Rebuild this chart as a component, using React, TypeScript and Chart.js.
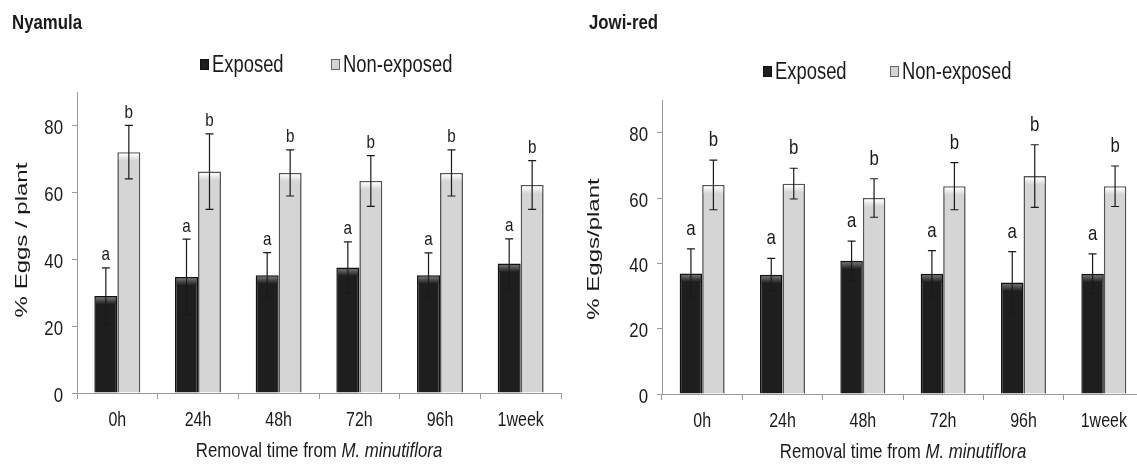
import React, { useEffect, useRef } from "react";
import { Chart, registerables } from "chart.js";

Chart.register(...registerables);

// ---------- data ----------
const categories = ["0h", "24h", "48h", "72h", "96h", "1week"];
const seriesNames = ["Exposed", "Non-exposed"];
const yTickStep = 20;
const yMax = 90;

const nyamulaExposed = [29, 34.7, 35.2, 37.5, 35.2, 38.7];
const nyamulaExposedErr = [8.4, 11.3, 6.8, 7.7, 6.7, 7.4];
const nyamulaNonExposed = [72, 66.2, 65.8, 63.4, 65.8, 62.2];
const nyamulaNonExposedErr = [8, 11.3, 6.9, 7.6, 6.9, 7.3];

const jowiExposed = [36.9, 36.5, 40.8, 36.8, 34.1, 36.8];
const jowiExposedErr = [7.5, 5, 6, 7.1, 9.5, 6.1];
const jowiNonExposed = [64, 64.4, 60, 63.6, 66.7, 63.6];
const jowiNonExposedErr = [7.6, 4.7, 5.9, 7.2, 9.6, 6.2];

const exposedLetters = ["a", "a", "a", "a", "a", "a"];
const nonExposedLetters = ["b", "b", "b", "b", "b", "b"];

const xTitleNormal = "Removal time from ";
const xTitleItalic = "M. minutiflora";

// ---------- style ----------
const FONT = '"Liberation Sans", Arial, sans-serif';
const SX = 0.8; // horizontal squeeze to mimic a narrow face
const TEXT = "#1a1a1a";
const EXPOSED_FILL = "#1e1e1e";
const EXPOSED_TOP = "#707070";
const NON_FILL = "#d5d5d5";
const NON_TOP = "#ffffff";

function narrowText(
  ctx: CanvasRenderingContext2D,
  text: string,
  x: number,
  y: number,
  font: string,
  align: CanvasTextAlign = "left"
) {
  ctx.save();
  ctx.font = font;
  ctx.textAlign = align;
  ctx.textBaseline = "alphabetic";
  ctx.fillStyle = TEXT;
  ctx.translate(x, y);
  ctx.scale(SX, 1);
  ctx.fillText(text, 0, 0);
  ctx.restore();
}

type PanelCfg = {
  title: string;
  yTitle: string;
  exposed: number[];
  exposedErr: number[];
  non: number[];
  nonErr: number[];
  width: number;
  height: number;
  area: { left: number; right: number; top: number; bottom: number };
  catPct: number;
  titleX: number;
  titleY: number;
  legendY: number;
  legendX1: number;
  legendX2: number;
  yTitleX: number;
  yTitleY: number;
  xTitleY: number;
  xTickY: number;
  letterGap: number;
  letterSize: number;
};

function makeChart(canvas: HTMLCanvasElement, p: PanelCfg) {
  const errs = [p.exposedErr, p.nonErr];
  const letters = [exposedLetters, nonExposedLetters];

  const decor = {
    id: "decor",
    afterDatasetsDraw(chart: any) {
      const ctx = chart.ctx as CanvasRenderingContext2D;
      const ys = chart.scales.y;
      // bar top highlight
      chart.data.datasets.forEach((ds: any, i: number) => {
        const meta = chart.getDatasetMeta(i);
        meta.data.forEach((el: any) => {
          const bw = 1.5;
          const x0 = el.x - el.width / 2 + bw;
          const w = el.width - 2 * bw;
          const y0 = el.y + bw;
          const h = 7;
          const g = ctx.createLinearGradient(0, y0, 0, y0 + h);
          g.addColorStop(0, i === 0 ? EXPOSED_TOP : NON_TOP);
          g.addColorStop(1, i === 0 ? EXPOSED_FILL : NON_FILL);
          ctx.save();
          ctx.fillStyle = g;
          ctx.fillRect(x0, y0, w, h);
          ctx.restore();
        });
      });
      // error bars + letters
      chart.data.datasets.forEach((ds: any, i: number) => {
        const meta = chart.getDatasetMeta(i);
        meta.data.forEach((el: any, j: number) => {
          const v = ds.data[j];
          const e = errs[i][j];
          const yt = ys.getPixelForValue(v + e);
          const yb = ys.getPixelForValue(v - e);
          const x = el.x;
          ctx.save();
          ctx.strokeStyle = "#1a1a1a";
          ctx.lineWidth = 1.2;
          ctx.beginPath();
          ctx.moveTo(x, yt);
          ctx.lineTo(x, yb);
          ctx.moveTo(x - 4, yt);
          ctx.lineTo(x + 4, yt);
          ctx.moveTo(x - 4, yb);
          ctx.lineTo(x + 4, yb);
          ctx.stroke();
          ctx.restore();
          narrowText(ctx, letters[i][j], x, yt - p.letterGap, `${p.letterSize}px ${FONT}`, "center");
        });
      });
    },
    afterDraw(chart: any) {
      const ctx = chart.ctx as CanvasRenderingContext2D;
      const ca = chart.chartArea;
      const xs = chart.scales.x;
      const ys = chart.scales.y;

      // tick labels from the library's scales
      xs.ticks.forEach((t: any, i: number) => {
        narrowText(ctx, String(t.label), xs.getPixelForTick(i), p.xTickY, `20px ${FONT}`, "center");
      });
      ys.ticks.forEach((t: any, i: number) => {
        narrowText(ctx, String(t.label), ca.left - 14, ys.getPixelForTick(i) + 8.5, `21px ${FONT}`, "right");
      });

      // panel title
      narrowText(ctx, p.title, p.titleX, p.titleY, `bold 21px ${FONT}`, "left");

      // legend
      const lx = [p.legendX1, p.legendX2];
      [0, 1].forEach((i) => {
        const bx = lx[i];
        const by = p.legendY - 13;
        ctx.save();
        ctx.fillStyle = i === 0 ? EXPOSED_FILL : NON_FILL;
        ctx.strokeStyle = i === 0 ? "#111" : "#666";
        ctx.lineWidth = 1;
        ctx.fillRect(bx, by, 9, 11);
        ctx.strokeRect(bx + 0.5, by + 0.5, 8, 10);
        ctx.restore();
        narrowText(ctx, seriesNames[i], bx + 12, p.legendY, `23px ${FONT}`, "left");
      });

      // x title, mixed style
      ctx.save();
      ctx.font = `21px ${FONT}`;
      const w1 = ctx.measureText(xTitleNormal).width * SX;
      ctx.font = `italic 21px ${FONT}`;
      const w2 = ctx.measureText(xTitleItalic).width * SX;
      ctx.restore();
      const cx = (ca.left + ca.right) / 2;
      const x0 = cx - (w1 + w2) / 2;
      narrowText(ctx, xTitleNormal, x0, p.xTitleY, `21px ${FONT}`, "left");
      narrowText(ctx, xTitleItalic, x0 + w1, p.xTitleY, `italic 21px ${FONT}`, "left");

      // y title (rotated, squeezed across its height)
      ctx.save();
      ctx.fillStyle = TEXT;
      ctx.translate(p.yTitleX, p.yTitleY);
      ctx.rotate(-Math.PI / 2);
      ctx.scale(1, 0.7);
      ctx.font = `24px ${FONT}`;
      ctx.textAlign = "center";
      ctx.textBaseline = "middle";
      ctx.fillText(p.yTitle, 0, 0);
      ctx.restore();
    },
  };

  return new Chart(canvas, {
    type: "bar",
    data: {
      labels: categories,
      datasets: [
        {
          label: seriesNames[0],
          data: p.exposed,
          backgroundColor: EXPOSED_FILL,
          borderColor: "#111111",
          borderWidth: 1.5,
          barPercentage: 1,
          categoryPercentage: p.catPct,
        },
        {
          label: seriesNames[1],
          data: p.non,
          backgroundColor: NON_FILL,
          borderColor: "#555555",
          borderWidth: 1.6,
          barPercentage: 1,
          categoryPercentage: p.catPct,
        },
      ],
    },
    options: {
      responsive: false,
      animation: false,
      layout: {
        padding: { top: p.area.top, left: 0, right: p.width - p.area.right, bottom: 0 },
      },
      plugins: {
        legend: { display: false },
        title: { display: false },
        tooltip: { enabled: false },
      },
      scales: {
        x: {
          offset: true,
          grid: { offset: true, drawOnChartArea: false, drawTicks: true, tickLength: 6, color: "#9a9a9a" },
          border: { color: "#9a9a9a", width: 1 },
          ticks: { display: false },
          afterFit: (s: any) => {
            s.height = p.height - p.area.bottom;
          },
        },
        y: {
          min: 0,
          max: yMax,
          grid: { drawOnChartArea: false, drawTicks: true, tickLength: 5, color: "#9a9a9a" },
          border: { color: "#9a9a9a", width: 1 },
          ticks: { display: false, stepSize: yTickStep, includeBounds: false },
          afterFit: (s: any) => {
            s.width = p.area.left;
          },
        },
      },
    } as any,
    plugins: [decor],
  });
}

const leftPanel: PanelCfg = {
  title: "Nyamula",
  yTitle: "% Eggs / plant",
  exposed: nyamulaExposed,
  exposedErr: nyamulaExposedErr,
  non: nyamulaNonExposed,
  nonErr: nyamulaNonExposedErr,
  width: 568,
  height: 465,
  area: { left: 77, right: 561, top: 92, bottom: 393 },
  catPct: 0.57,
  titleX: 12,
  titleY: 29,
  legendY: 72,
  legendX1: 200,
  legendX2: 331,
  yTitleX: 22.5,
  yTitleY: 240,
  xTitleY: 457,
  xTickY: 426,
  letterGap: 7.5,
  letterSize: 19,
};

const rightPanel: PanelCfg = {
  title: "Jowi-red",
  yTitle: "% Eggs/plant",
  exposed: jowiExposed,
  exposedErr: jowiExposedErr,
  non: jowiNonExposed,
  nonErr: jowiNonExposedErr,
  width: 582,
  height: 465,
  area: { left: 94, right: 576, top: 100, bottom: 394 },
  catPct: 0.56,
  titleX: 21,
  titleY: 29,
  legendY: 79,
  legendX1: 195,
  legendX2: 322,
  yTitleX: 26.5,
  yTitleY: 249,
  xTitleY: 458,
  xTickY: 427,
  letterGap: 14,
  letterSize: 21,
};

export default function App() {
  const leftRef = useRef<HTMLCanvasElement>(null);
  const rightRef = useRef<HTMLCanvasElement>(null);

  useEffect(() => {
    const c1 = makeChart(leftRef.current!, leftPanel);
    const c2 = makeChart(rightRef.current!, rightPanel);
    return () => {
      c1.destroy();
      c2.destroy();
    };
  }, []);

  return (
    <div
      style={{
        position: "fixed",
        left: 0,
        top: 0,
        width: 1137,
        height: 465,
        overflow: "hidden",
        background: "#ffffff",
      }}
    >
      <canvas
        ref={leftRef}
        width={leftPanel.width}
        height={leftPanel.height}
        style={{ position: "absolute", left: 0, top: 0, width: leftPanel.width, height: leftPanel.height }}
      />
      <canvas
        ref={rightRef}
        width={rightPanel.width}
        height={rightPanel.height}
        style={{ position: "absolute", left: 568, top: 0, width: rightPanel.width, height: rightPanel.height }}
      />
    </div>
  );
}
